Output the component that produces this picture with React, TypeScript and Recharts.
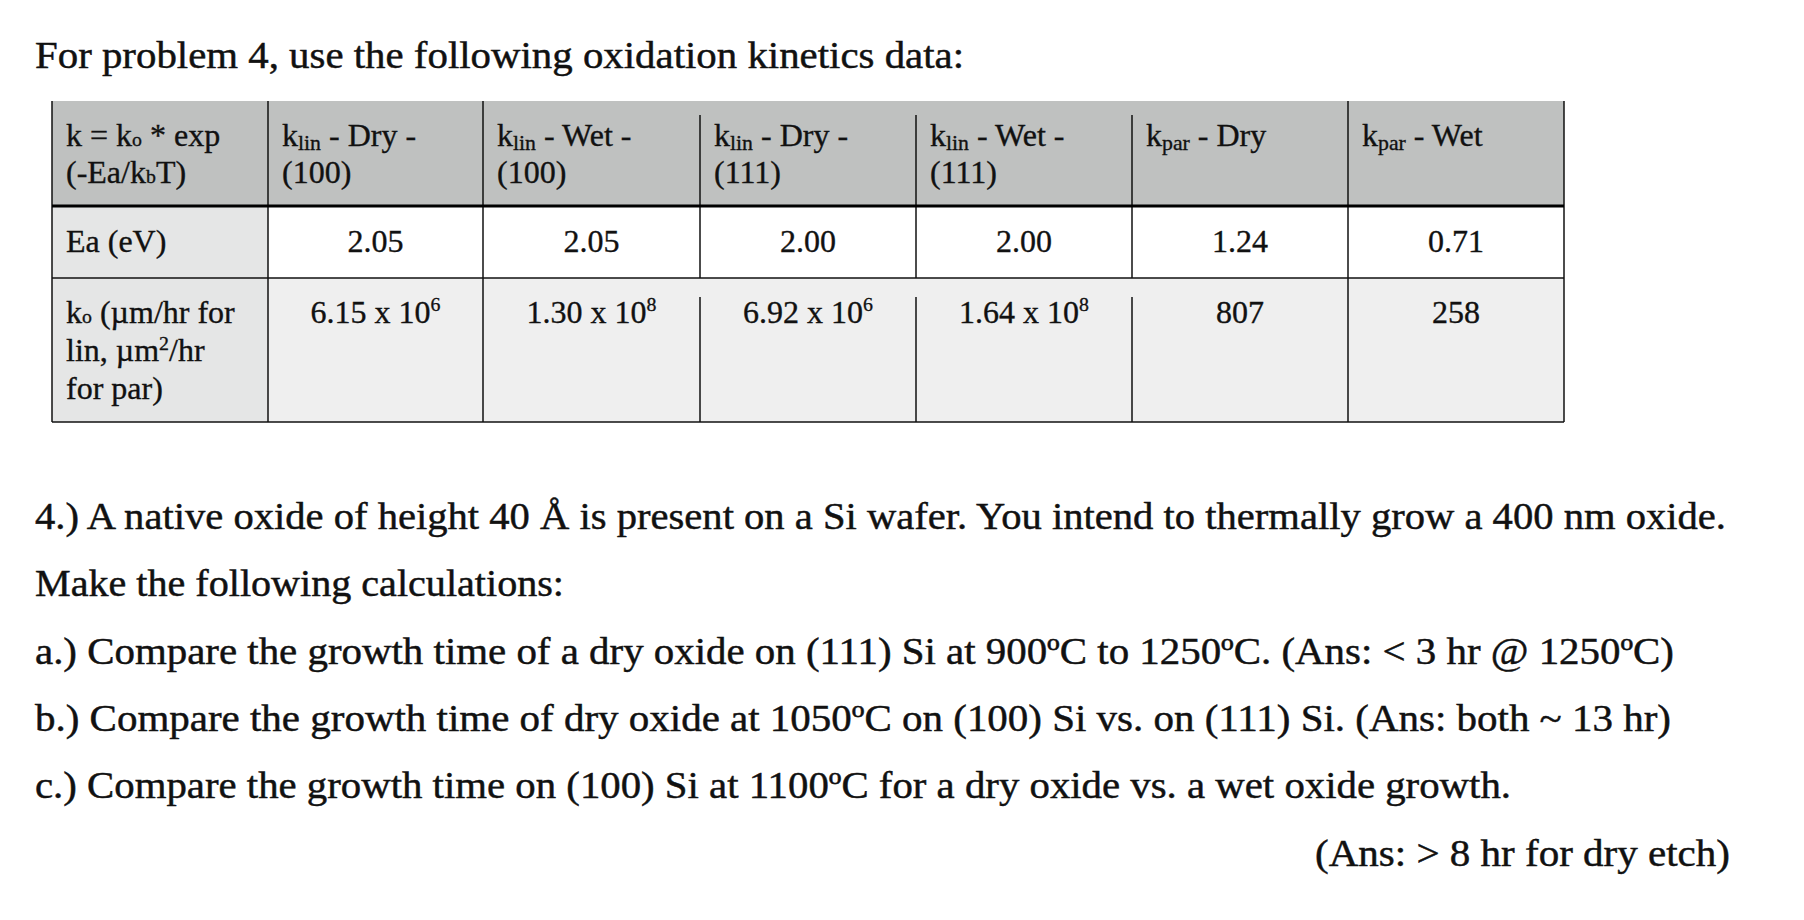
import React from 'react';
import { Surface, Layer, Rectangle } from 'recharts';

const W = 1804;
const H = 920;
const FONT = '"Liberation Serif", "Times New Roman", serif';

// text + table contents
const title = 'For problem 4, use the following oxidation kinetics data:';
const headerSubs = ['lin', 'lin', 'lin', 'lin', 'par', 'par'];
const headerConds = [' - Dry -', ' - Wet -', ' - Dry -', ' - Wet -', ' - Dry', ' - Wet'];
const headerOrient = ['(100)', '(100)', '(111)', '(111)', '', ''];
const eaValues = ['2.05', '2.05', '2.00', '2.00', '1.24', '0.71'];
const k0Mantissa = ['6.15 x 10', '1.30 x 10', '6.92 x 10', '1.64 x 10', '807', '258'];
const k0Exponent = ['6', '8', '6', '8', '', ''];
const problemLines = [
  '4.) A native oxide of height 40 Å is present on a Si wafer. You intend to thermally grow a 400 nm oxide.',
  'Make the following calculations:',
  'a.) Compare the growth time of a dry oxide on (111) Si at 900ºC to 1250ºC. (Ans: < 3 hr @ 1250ºC)',
  'b.) Compare the growth time of dry oxide at 1050ºC on (100) Si vs. on (111) Si. (Ans: both ~ 13 hr)',
  'c.) Compare the growth time on (100) Si at 1100ºC for a dry oxide vs. a wet oxide growth.',
];
const answerC = '(Ans: > 8 hr for dry etch)';

// layout
const colX = [52, 268, 483, 700, 916, 1132, 1348, 1564];
const rowY = [101, 206, 278, 422];
const lineEnds = [1726, 564, 1674, 1671, 1511];
const lineBase = [529, 596, 664, 731, 798];
const partialCols = [3, 4, 5];

const HEADER_BG = '#bfc1c0';
const LABEL_BG = '#e5e6e6';
const ROW3_BG = '#efefef';
const INK = '#111';

const T = 32; // table font size

const App = () => {
  // Cambria in the original is a bit heavier than Liberation Serif, so thicken slightly
  const body = { fontFamily: FONT, fontSize: 37, fill: INK, stroke: INK, strokeWidth: 0.45 };
  const cell = { fontFamily: FONT, fontSize: T, fill: INK, stroke: INK, strokeWidth: 0.35 };
  return (
    <div style={{ position: 'absolute', left: 0, top: 0, width: W, height: H, background: '#fff' }}>
      <Surface width={W} height={H}>
        <text x={35} y={68} {...body} textLength={929} lengthAdjust="spacingAndGlyphs">{title}</text>

        <Layer className="table">
          <Rectangle x={colX[0]} y={rowY[0]} width={colX[7] - colX[0]} height={rowY[1] - rowY[0]} fill={HEADER_BG} />
          <Rectangle x={colX[0]} y={rowY[1]} width={colX[1] - colX[0]} height={rowY[3] - rowY[1]} fill={LABEL_BG} />
          <Rectangle x={colX[1]} y={rowY[1]} width={colX[7] - colX[1]} height={rowY[2] - rowY[1]} fill="#fff" />
          <Rectangle x={colX[1]} y={rowY[2]} width={colX[7] - colX[1]} height={rowY[3] - rowY[2]} fill={ROW3_BG} />

          {/* column rules */}
          {colX.map((x, i) => {
            const partial = partialCols.includes(i);
            return (
              <g key={'c' + i}>
                <line x1={x} x2={x} y1={partial ? 115 : rowY[0]} y2={rowY[1]} stroke={INK} strokeWidth={1.5} />
                <line x1={x} x2={x} y1={rowY[1]} y2={rowY[2]} stroke={INK} strokeWidth={1.5} />
                <line x1={x} x2={x} y1={partial ? 297 : rowY[2]} y2={rowY[3]} stroke={INK} strokeWidth={1.5} />
              </g>
            );
          })}
          <line x1={colX[0]} x2={colX[7]} y1={rowY[1]} y2={rowY[1]} stroke="#000" strokeWidth={3} />
          <line x1={colX[0]} x2={colX[7]} y1={rowY[2]} y2={rowY[2]} stroke={INK} strokeWidth={1.5} />
          <line x1={colX[0]} x2={colX[7]} y1={rowY[3]} y2={rowY[3]} stroke={INK} strokeWidth={1.5} />

          {/* first column */}
          <text x={66} y={146} {...cell}>
            k = k<tspan fontSize={T * 0.62}>o</tspan> * exp
          </text>
          <text x={66} y={183} {...cell}>
            (-Ea/k<tspan fontSize={T * 0.62}>b</tspan>T)
          </text>
          <text x={66} y={252} {...cell}>Ea (eV)</text>
          <text x={66} y={323} {...cell}>
            k<tspan fontSize={T * 0.62}>o</tspan> (µm/hr for
          </text>
          <text x={66} y={361} {...cell}>
            lin, µm<tspan fontSize={T * 0.62} dy={-11}>2</tspan><tspan dy={11}>/hr</tspan>
          </text>
          <text x={66} y={399} {...cell}>for par)</text>

          {headerSubs.map((sub, i) => (
            <g key={'h' + i}>
              <text x={colX[i + 1] + 14} y={146} {...cell}>
                k<tspan fontSize={T * 0.68} dy={4}>{sub}</tspan>
                <tspan dy={-4}>{headerConds[i]}</tspan>
              </text>
              {headerOrient[i] && (
                <text x={colX[i + 1] + 14} y={183} {...cell}>{headerOrient[i]}</text>
              )}
            </g>
          ))}

          {eaValues.map((v, i) => (
            <text key={'e' + i} x={(colX[i + 1] + colX[i + 2]) / 2} y={252} textAnchor="middle" {...cell}>{v}</text>
          ))}

          {k0Mantissa.map((m, i) => (
            <text key={'k' + i} x={(colX[i + 1] + colX[i + 2]) / 2} y={323} textAnchor="middle" {...cell}>
              {m}
              {k0Exponent[i] && <tspan fontSize={T * 0.62} dy={-12}>{k0Exponent[i]}</tspan>}
            </text>
          ))}
        </Layer>

        {problemLines.map((s, i) => (
          <text key={'p' + i} x={35} y={lineBase[i]} {...body} textLength={lineEnds[i] - 35} lengthAdjust="spacingAndGlyphs">
            {s}
          </text>
        ))}
        <text x={1315} y={866} {...body} textLength={415} lengthAdjust="spacingAndGlyphs">{answerC}</text>
      </Surface>
    </div>
  );
};

export default App;
